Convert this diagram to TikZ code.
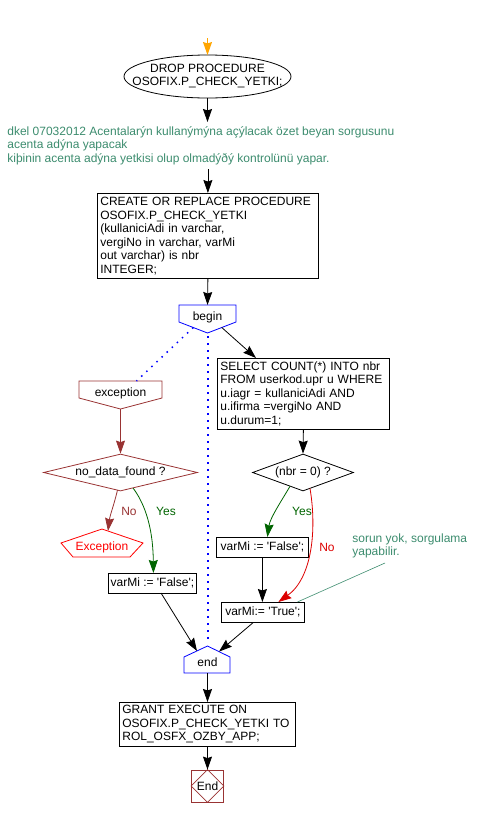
\documentclass[tikz,border=0pt]{standalone}
\usepackage{fontspec}
\setmainfont{Liberation Sans}
\usetikzlibrary{arrows.meta,shapes.geometric,calc}
\definecolor{cmt}{RGB}{60,140,110}
\definecolor{dred}{RGB}{153,51,51}
\definecolor{ygreen}{RGB}{0,100,0}
\definecolor{nred}{RGB}{220,0,0}
\definecolor{orng}{RGB}{255,165,0}
\newcommand{\myq}{\textquotesingle}
\begin{document}
\begin{tikzpicture}[x=1pt,y=-1pt,
  font=\fontsize{12}{13.5}\selectfont,
  line width=0.8pt,
  arr/.style={-{Stealth[length=13pt,width=9pt,inset=1.5pt]}},
  stmt/.style={draw, rectangle, anchor=north west, inner xsep=3pt, inner ysep=0pt, align=left},
  one/.style={draw, rectangle, anchor=north west, inner xsep=2pt, inner ysep=0pt},
  txt/.style={inner sep=0pt},
  cmttext/.style={text=cmt, inner xsep=0pt, align=left, anchor=north west},
  dots/.style={blue, line width=1.5pt, dash pattern=on 1.5pt off 5.5pt},
  decis/.style={draw, diamond, inner sep=0pt, minimum height=37}
]
\useasboundingbox (0,0) rectangle (481,817);

% start arrow and DROP ellipse
\coordinate (ostart) at (207.5,38);
\coordinate (droptop) at (207.5,55);
\coordinate (dropbot) at (207.5,98);
\draw (207.5,76.5) ellipse [x radius=83.5, y radius=21.5];
\node[txt, align=center] (drop) at (207.5,76) {DROP PROCEDURE\\OSOFIX.P\_CHECK\_YETKI;};
\draw[arr, orng, line width=1pt] (ostart) -- (droptop);

% comment
\node[cmttext, inner ysep=4pt] (cmt) at (7,122)
 {dkel 07032012 Acentalarýn kullanýmýna açýlacak özet beyan sorgusunu\\acenta adýna yapacak\\kiþinin acenta adýna yetkisi olup olmadýðý kontrolünü yapar.};
\draw[arr] (dropbot) -- (dropbot |- cmt.north);

% CREATE box
\node[stmt, minimum width=221, text width=215, minimum height=85] (create) at (97,193)
 {CREATE OR REPLACE PROCEDURE\\OSOFIX.P\_CHECK\_YETKI\\(kullaniciAdi in varchar,\\vergiNo in varchar, varMi\\out varchar) is nbr\\INTEGER;};
\draw[arr] (create.north |- cmt.south) -- (create.north);

% begin
\draw[blue] (179,305) -- (236,305) -- (236,322) -- (207.5,333) -- (179,322) -- cycle;
\node[txt] (begin) at (207.5,317) {begin};
\coordinate (begintop) at (207.5,305);
\coordinate (begintip) at (208,336);
\coordinate (beginr) at (221.75,327.5);
\coordinate (beginl) at (193.25,327.5);
\draw[arr] (create.south) -- (begintop);

% SELECT box
\node[stmt, minimum width=172, text width=166, minimum height=71] (select) at (217,358)
 {SELECT COUNT(*) INTO nbr\\FROM userkod.upr u WHERE\\u.iagr = kullaniciAdi AND\\u.ifirma =vergiNo AND\\u.durum=1;};
\draw[arr] (beginr) -- ([xshift=39]select.north west);

% exception
\draw[dred] (79,381) -- (162,381) -- (162,398) -- (120.5,409) -- (79,398) -- cycle;
\node[txt] (exc) at (120.5,393) {exception};
\coordinate (exctop) at (136.5,381);
\coordinate (exctip) at (120.5,409);
\draw[dots] (beginl) -- (exctop);

% decisions
\node[decis, draw=dred, minimum width=154, aspect=4.16] (nodata) at (120.5,472.5) {no\_data\_found ?};
\draw[arr, dred] (exctip) -- (nodata.north);
\node[decis, minimum width=101, aspect=2.73] (nbr) at (303,472.5) {(nbr = 0) ?};
\draw[arr] (select.south) -- (nbr.north);

% Exception (red)
\draw[red] (102,529) -- (143,543) -- (130,557) -- (73,557) -- (61,543) -- cycle;
\node[txt, text=red] (exred) at (102,547) {Exception};
\coordinate (exredin) at (108,531);
\coordinate (ndno) at (117.5,490);
\draw[arr, dred] (ndno) .. controls (114,505) and (110,515) .. (exredin);
\node[txt, text=dred] (nolab1) at (129,511) {No};

% left varMi False
\node[one, minimum width=88, minimum height=20] (falseL) at (108,573)
 {varMi := \myq False\myq;};
\coordinate (ndyes) at (133,488);
\draw[arr, ygreen] (ndyes) .. controls (142,500) and (153,522) .. ([xshift=1]falseL.north);
\node[txt, text=ygreen] (yeslab1) at (166,511) {Yes};

% right branch
\node[one, minimum width=92, minimum height=20] (falseR) at (216,537)
 {varMi := \myq False\myq;};
\node[one, minimum width=83, minimum height=20] (trueB) at (221,602)
 {varMi:= \myq True\myq;};
\coordinate (nbyes) at (290,486.3);
\coordinate (nbno) at (310,488.4);
\draw[arr, ygreen] (nbyes) .. controls (282,500) and (270,518) .. ([xshift=5]falseR.north);
\node[txt, text=ygreen] (yeslab2) at (302,511) {Yes};
\draw[arr, nred] (nbno) .. controls (317,530) and (312,578) .. ([xshift=15.5]trueB.north);
\node[txt, text=nred] (nolab2) at (327,547) {No};
\draw[arr] (falseR.south) -- (falseR.south |- trueB.north);

% comment 2
\node[cmttext, inner ysep=0pt] (cmt2) at (352,533) {sorun yok, sorgulama\\yapabilir.};
\coordinate (c2end) at (385,563);
\draw[cmt, line width=0.6pt] (c2end) -- ([xshift=34.5]trueB.north);

% end
\draw[blue] (207.5,646) -- (230,657) -- (230,673) -- (184,673) -- (184,657) -- cycle;
\node[txt] (endn) at (207.5,662) {end};
\coordinate (endtop) at (208,644);
\coordinate (endbot) at (207.5,673);
\coordinate (endl) at (197,651);
\coordinate (endr) at (219,651.6);
\draw[dots] (begintip) -- (endtop);
\draw[arr] (161,593) -- (endl);
\draw[arr] ([xshift=-10]trueB.south) -- (endr);

% GRANT
\node[stmt, minimum width=176, text width=170, minimum height=44] (grant) at (119,702)
 {GRANT EXECUTE ON\\OSOFIX.P\_CHECK\_YETKI TO\\ROL\_OSFX\_OZBY\_APP;};
\draw[arr] (endbot) -- (endbot |- grant.north);

% End terminator
\node[draw=dred, rectangle, minimum size=32, inner sep=0pt] (endb) at (207.5,786) {};
\draw[dred] (endb.north) -- (endb.east) -- (endb.south) -- (endb.west) -- cycle;
\node[txt] (endtxt) at (endb.center) {End};
\draw[arr] (grant.south -| endb.north) -- (endb.north);
\end{tikzpicture}
\end{document}
